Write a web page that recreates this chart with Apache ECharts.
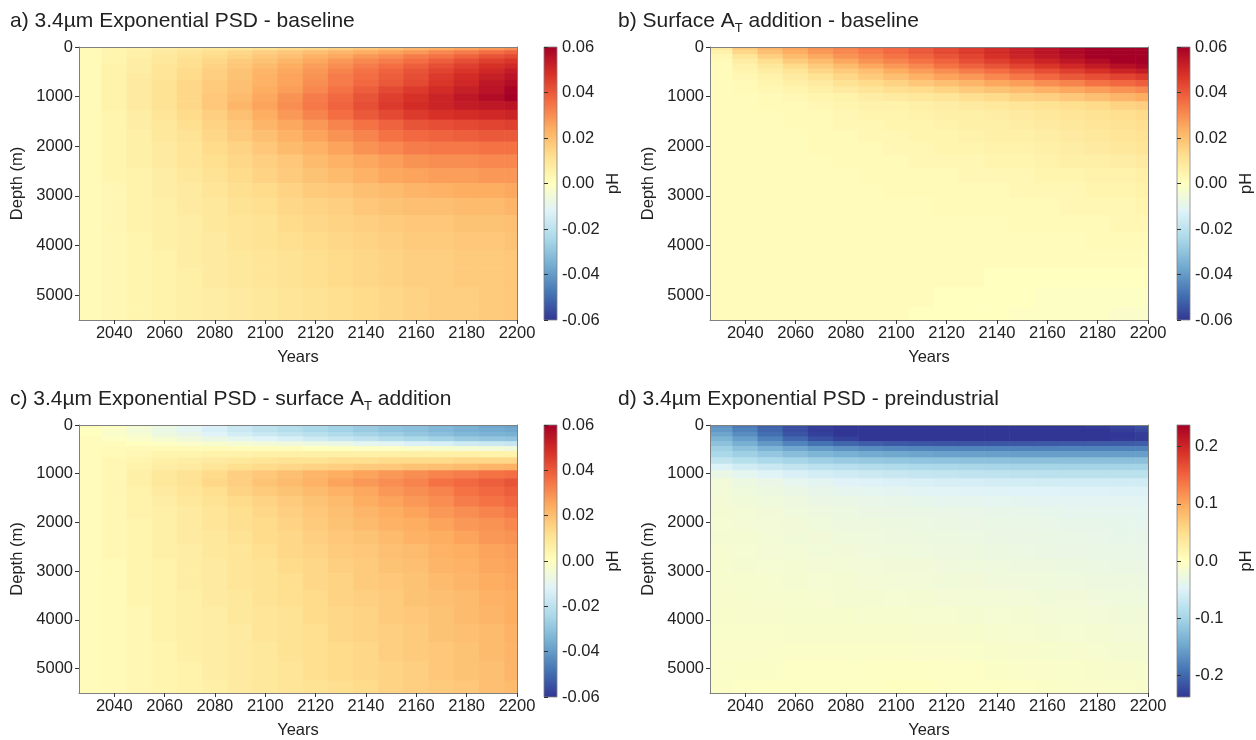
<!DOCTYPE html>
<html>
<head>
<meta charset="utf-8">
<title>pH change with depth</title>
<script src="https://cdn.jsdelivr.net/npm/echarts@6/dist/echarts.min.js"></script>
<style>
  html, body { margin: 0; padding: 0; background: #fff; }
  #chart { width: 1256px; height: 740px; }
</style>
</head>
<body>
<div id="chart"></div>
<script>
// column centres (years) and model layer edges (m)
const years = [2030, 2040, 2050, 2060, 2070, 2080, 2090, 2100, 2110, 2120, 2130, 2140, 2150, 2160, 2170, 2180, 2190, 2200];
const depthEdges = [0, 70, 150, 240, 340, 440, 540, 670, 800, 935, 1100, 1270, 1470, 1680, 1910, 2170, 2450, 2750, 3050, 3390, 3730, 4090, 4460, 4850, 5250, 5500];

const yearTicks = [2040, 2060, 2080, 2100, 2120, 2140, 2160, 2180, 2200];
const depthTicks = [0, 1000, 2000, 3000, 4000, 5000];
const phTicks = [-0.06, -0.04, -0.02, 0, 0.02, 0.04, 0.06];
const phTicksWide = [-0.2, -0.1, 0, 0.1, 0.2];

// pH differences, units of 0.001, one row per layer (top to bottom)
const phA = [
  [2,4,5,7,8,9,10,11,13,14,16,18,20,22,24,26,28,30],
  [2,4,6,8,10,12,14,16,18,20,22,24,26,28,31,33,36,38],
  [2,4,6,9,11,13,15,18,20,23,25,28,30,33,35,38,41,43],
  [2,4,7,9,12,14,17,19,22,25,28,31,33,36,39,42,45,47],
  [2,5,7,10,12,15,18,21,24,27,30,33,36,39,42,45,48,50],
  [2,5,7,10,13,16,19,22,25,28,32,35,38,41,44,47,50,53],
  [2,5,8,10,13,16,19,23,26,29,33,36,39,42,46,49,52,55],
  [2,5,8,11,14,17,20,23,26,30,33,37,40,43,47,50,54,57],
  [2,5,8,11,14,17,20,24,27,31,35,39,43,46,49,52,55,59],
  [2,5,8,11,14,18,21,25,29,33,37,41,45,48,51,54,57,60],
  [2,5,8,11,14,18,22,26,30,34,38,42,46,49,51,53,54,55],
  [2,4,7,10,13,16,20,24,28,32,36,40,43,46,48,49,50,51],
  [2,4,7,9,12,15,18,22,25,28,32,35,38,41,42,43,44,45],
  [2,4,6,9,11,14,17,20,23,26,29,32,35,37,38,39,40,40],
  [2,4,6,8,10,13,15,18,21,23,26,29,31,33,34,34,35,35],
  [2,4,6,8,10,12,14,16,18,21,23,25,27,29,30,30,31,31],
  [2,4,5,7,9,11,13,15,17,19,21,23,25,26,27,27,28,28],
  [2,3,5,7,8,10,12,13,15,17,18,20,21,22,23,24,24,25],
  [2,3,5,6,8,9,11,12,14,15,16,18,19,20,20,21,21,22],
  [2,3,5,6,7,9,10,11,13,14,15,16,17,18,18,19,19,20],
  [2,3,4,6,7,8,10,11,12,13,14,15,16,17,17,18,18,19],
  [2,3,4,5,7,8,9,10,11,12,13,14,15,16,16,17,17,18],
  [2,3,4,5,6,8,9,10,11,12,13,14,15,16,16,17,17,18],
  [2,3,4,5,6,7,8,9,10,11,12,13,14,15,16,16,17,18],
  [2,3,4,5,6,7,8,9,10,11,12,13,14,15,16,16,17,18]
];

const phB = [
  [8,17,22,26,29,32,35,37,40,43,46,49,52,55,58,61,63,65],
  [5,14,20,24,28,31,34,37,40,43,46,49,52,55,58,61,63,65],
  [3,10,16,21,25,29,32,35,38,41,44,48,51,54,57,60,62,64],
  [2,7,12,17,21,25,29,32,35,38,42,45,48,51,54,57,60,62],
  [1,5,9,13,17,21,25,28,31,35,38,41,44,47,50,53,56,58],
  [1,4,7,10,14,17,20,24,27,30,33,36,39,42,45,48,51,53],
  [1,3,5,8,11,14,17,20,23,26,28,31,34,37,40,42,44,46],
  [1,2,4,6,8,11,13,15,18,20,22,25,27,30,32,35,37,39],
  [1,2,3,4,6,8,10,12,13,15,17,19,21,23,25,27,29,31],
  [1,1,2,3,4,5,7,8,9,10,12,13,15,16,18,20,22,24],
  [1,1,2,2,3,4,5,5,6,7,8,9,10,11,12,13,15,16],
  [1,1,1,2,2,3,4,4,5,6,6,7,8,9,10,11,12,13],
  [1,1,1,2,2,3,3,4,4,5,6,6,7,8,9,10,11,12],
  [1,1,1,1,2,2,3,3,4,4,5,6,6,7,8,9,10,11],
  [1,1,1,1,2,2,2,3,3,4,4,5,5,6,7,8,9,10],
  [1,1,1,1,1,2,2,2,3,3,3,4,4,5,6,6,7,8],
  [1,1,1,1,1,1,2,2,2,2,3,3,3,4,4,5,5,6],
  [1,1,1,1,1,1,1,2,2,2,2,2,3,3,3,4,4,5],
  [1,1,1,1,1,1,1,1,1,2,2,2,2,2,3,3,3,4],
  [1,1,1,1,1,1,1,1,1,1,1,1,2,2,2,2,3,3],
  [1,1,1,1,1,1,1,1,1,1,1,1,1,1,1,2,2,2],
  [1,1,1,1,1,1,1,1,1,1,1,1,1,1,1,1,1,1],
  [1,1,1,1,1,1,1,1,1,1,1,0,0,0,0,0,0,0],
  [1,1,1,1,1,1,1,1,1,0,0,0,0,-1,-1,-1,-1,-1],
  [1,1,1,1,1,1,1,1,0,0,0,0,-1,-1,-1,-1,-2,-2]
];

const phC = [
  [1,-1,-4,-7,-10,-13,-17,-20,-22,-24,-26,-28,-30,-31,-33,-35,-37,-38],
  [0,-2,-5,-8,-11,-14,-17,-20,-22,-24,-26,-28,-30,-31,-33,-35,-36,-37],
  [0,-2,-4,-7,-9,-12,-15,-17,-19,-21,-23,-25,-27,-29,-31,-33,-34,-35],
  [1,-1,-2,-4,-6,-8,-10,-12,-14,-16,-18,-20,-22,-24,-26,-28,-29,-30],
  [1,1,0,-1,-2,-3,-4,-5,-6,-7,-8,-10,-11,-13,-14,-16,-17,-18],
  [1,2,2,2,2,2,1,1,1,0,0,-1,-1,-2,-3,-4,-5,-6],
  [1,2,3,4,4,5,5,6,6,6,6,6,6,6,6,6,5,5],
  [1,3,4,6,7,8,9,10,11,11,12,12,13,13,13,14,14,14],
  [1,3,5,7,8,10,12,13,14,15,16,17,18,19,20,21,22,23],
  [1,3,6,9,11,13,16,18,20,22,24,26,28,30,32,33,35,36],
  [1,3,6,9,11,14,16,19,21,23,26,28,30,32,35,37,39,41],
  [1,3,5,8,10,12,15,17,19,21,23,25,28,30,32,35,37,39],
  [1,3,5,7,9,11,13,15,17,19,21,24,26,28,30,33,35,37],
  [1,3,5,6,8,10,12,14,16,18,20,22,24,26,28,30,32,34],
  [1,3,4,6,8,10,12,13,15,17,19,21,23,24,26,28,29,31],
  [1,3,4,6,8,9,11,13,14,16,18,19,21,23,24,26,28,29],
  [1,3,4,6,7,9,10,12,14,15,17,18,20,21,23,24,26,27],
  [1,2,4,5,7,8,10,11,13,14,16,17,19,20,22,23,25,26],
  [1,2,4,5,7,8,10,11,12,14,15,17,18,19,21,22,24,25],
  [1,2,4,5,6,8,9,11,12,13,15,16,17,19,20,21,23,24],
  [1,2,3,5,6,7,9,10,11,13,14,15,17,18,19,21,22,24],
  [1,2,3,5,6,7,8,10,11,12,14,15,16,17,19,20,21,23],
  [1,2,3,4,6,7,8,9,11,12,13,14,16,17,18,19,21,22],
  [1,2,3,4,5,7,8,9,10,12,13,14,15,16,18,19,20,22],
  [1,2,3,4,5,6,8,9,10,11,12,13,15,16,17,18,20,21]
];

const phD = [
  [-165,-185,-205,-220,-232,-240,-245,-250,-250,-250,-250,-248,-246,-243,-240,-235,-228,-220],
  [-160,-180,-202,-220,-233,-242,-248,-252,-253,-253,-252,-250,-248,-245,-242,-238,-232,-225],
  [-150,-170,-195,-215,-230,-240,-247,-252,-254,-254,-253,-251,-249,-247,-244,-241,-237,-232],
  [-135,-155,-180,-200,-218,-230,-238,-243,-246,-247,-247,-246,-245,-243,-241,-239,-236,-233],
  [-120,-140,-160,-178,-192,-202,-208,-212,-214,-215,-215,-214,-213,-212,-211,-210,-209,-208],
  [-105,-120,-135,-148,-158,-166,-171,-175,-177,-178,-179,-179,-179,-179,-179,-179,-179,-179],
  [-95,-105,-115,-125,-133,-139,-144,-147,-150,-152,-153,-154,-155,-155,-155,-155,-155,-155],
  [-75,-85,-93,-100,-106,-110,-113,-116,-118,-119,-120,-121,-122,-122,-122,-122,-122,-122],
  [-50,-60,-68,-75,-80,-84,-88,-91,-93,-95,-97,-98,-99,-100,-101,-101,-101,-101],
  [-32,-40,-47,-53,-58,-62,-66,-69,-72,-74,-76,-78,-79,-80,-81,-81,-81,-81],
  [-22,-28,-33,-38,-42,-46,-49,-52,-54,-56,-57,-58,-59,-60,-61,-61,-61,-61],
  [-20,-24,-28,-32,-35,-38,-40,-42,-44,-45,-46,-47,-48,-48,-49,-49,-50,-50],
  [-18,-21,-24,-27,-30,-32,-34,-36,-37,-38,-39,-40,-41,-42,-42,-43,-43,-44],
  [-17,-19,-22,-24,-26,-28,-30,-31,-32,-33,-34,-35,-36,-37,-38,-38,-39,-40],
  [-16,-18,-20,-22,-24,-26,-27,-28,-29,-30,-31,-32,-33,-34,-35,-36,-37,-38],
  [-15,-17,-19,-21,-22,-24,-25,-26,-27,-28,-29,-30,-31,-32,-33,-34,-35,-36],
  [-14,-16,-18,-19,-21,-22,-23,-24,-25,-26,-27,-28,-29,-30,-31,-32,-33,-34],
  [-13,-15,-16,-17,-18,-19,-20,-21,-22,-23,-24,-25,-26,-27,-28,-29,-30,-31],
  [-12,-13,-14,-15,-16,-17,-18,-19,-20,-21,-22,-23,-23,-24,-25,-26,-27,-28],
  [-11,-12,-13,-13,-14,-15,-15,-16,-17,-18,-19,-19,-20,-21,-22,-23,-24,-25],
  [-10,-11,-11,-12,-12,-12,-13,-13,-14,-14,-15,-16,-17,-18,-19,-20,-21,-22],
  [-9,-9,-9,-10,-10,-10,-10,-10,-11,-11,-12,-13,-14,-15,-16,-17,-18,-19],
  [-8,-8,-7,-7,-7,-7,-7,-7,-8,-8,-9,-10,-11,-12,-13,-14,-15,-15],
  [-7,-6,-6,-5,-5,-5,-4,-4,-4,-5,-5,-6,-7,-8,-9,-10,-11,-12],
  [-6,-5,-4,-4,-3,-3,-3,-2,-2,-3,-3,-4,-5,-6,-7,-8,-9,-10]
];

// RdYlBu reversed
const cmap = ['#313695', '#4575b4', '#74add1', '#abd9e9', '#e0f3f8', '#ffffbf',
              '#fee090', '#fdae61', '#f46d43', '#d73027', '#a50026'];
const cmapRgb = cmap.map(h => [1, 3, 5].map(i => parseInt(h.slice(i, i + 2), 16)));

function colorAt(t) {
  t = Math.max(0, Math.min(1, t));
  const s = t * (cmapRgb.length - 1);
  const i = Math.min(Math.floor(s), cmapRgb.length - 2);
  const f = s - i;
  const a = cmapRgb[i], b = cmapRgb[i + 1];
  return 'rgb(' + a.map((v, k) => Math.round(v + (b[k] - v) * f)).join(',') + ')';
}

const FONT = 'Liberation Sans, Arial, sans-serif';
const TXT = '#222';
const SPINE = '#808080';

function cells(rows) {
  const out = [];
  rows.forEach((row, i) => {
    row.forEach((v, j) => {
      out.push([years[j] - 5, years[j] + 5, depthEdges[i], depthEdges[i + 1], v / 1000]);
    });
  });
  return out;
}

const panels = [
  { title: 'a) 3.4µm Exponential PSD - baseline', data: phA, lim: 0.06, ticks: phTicks, dec: 2,
    left: 79, top: 47, height: 273, cbLeft: 544, tLeft: 10, tTop: 7 },
  { title: 'b) Surface A{s|T} addition - baseline', data: phB, lim: 0.06, ticks: phTicks, dec: 2,
    left: 710, top: 47, height: 273, cbLeft: 1177, tLeft: 618, tTop: 7 },
  { title: 'c) 3.4µm Exponential PSD - surface A{s|T} addition', data: phC, lim: 0.06, ticks: phTicks, dec: 2,
    left: 79, top: 425, height: 272, cbLeft: 544, tLeft: 10, tTop: 385 },
  { title: 'd) 3.4µm Exponential PSD - preindustrial', data: phD, lim: 0.238, ticks: phTicksWide, dec: 1,
    left: 710, top: 425, height: 272, cbLeft: 1177, tLeft: 618, tTop: 385 }
];

const lineStyle = { color: SPINE, width: 1 };
const labelStyle = { fontSize: 16.5, color: TXT, fontFamily: FONT };
const tickStyle = { color: '#333', width: 1 };

const grid = [], xAxis = [], yAxis = [], series = [], title = [];

panels.forEach((p, k) => {
  title.push({
    left: p.tLeft, top: p.tTop, padding: 0,
    text: p.title,
    textStyle: {
      fontSize: 21, fontWeight: 'normal', color: TXT, fontFamily: FONT, lineHeight: 28,
      rich: { s: { fontSize: 13, color: TXT, fontFamily: FONT, verticalAlign: 'bottom', lineHeight: 28 } }
    }
  });

  grid.push({ left: p.left, top: p.top, width: 438, height: p.height });
  grid.push({ left: p.cbLeft, top: p.top, width: 13, height: p.height });

  xAxis.push({
    gridIndex: 2 * k, type: 'value', min: 2026, max: 2200, position: 'bottom', z: 10,
    axisLine: { show: true, onZero: false, lineStyle },
    axisTick: { show: true, length: 4, lineStyle: tickStyle, customValues: yearTicks },
    axisLabel: Object.assign({ customValues: yearTicks, formatter: v => String(v), margin: 5 }, labelStyle),
    splitLine: { show: false },
    name: 'Years', nameLocation: 'middle', nameGap: 29, nameTextStyle: labelStyle
  });
  xAxis.push({
    gridIndex: 2 * k, type: 'value', min: 2026, max: 2200, position: 'top', z: 10,
    axisLine: { show: true, onZero: false, lineStyle },
    axisTick: { show: false }, axisLabel: { show: false }, splitLine: { show: false }
  });
  xAxis.push({ gridIndex: 2 * k + 1, type: 'value', min: 0, max: 1, show: false });

  yAxis.push({
    gridIndex: 2 * k, type: 'value', min: 0, max: 5500, inverse: true, position: 'left', z: 10,
    axisLine: { show: true, onZero: false, lineStyle },
    axisTick: { show: true, length: 4, lineStyle: tickStyle, customValues: depthTicks },
    axisLabel: Object.assign({ customValues: depthTicks, formatter: v => String(v), margin: 6 }, labelStyle),
    splitLine: { show: false },
    name: 'Depth (m)', nameLocation: 'middle', nameGap: 53, nameRotate: 90, nameTextStyle: labelStyle
  });
  yAxis.push({
    gridIndex: 2 * k, type: 'value', min: 0, max: 5500, inverse: true, position: 'right', z: 10,
    axisLine: { show: true, onZero: false, lineStyle },
    axisTick: { show: false }, axisLabel: { show: false }, splitLine: { show: false }
  });
  yAxis.push({
    gridIndex: 2 * k + 1, type: 'value', min: -p.lim, max: p.lim, position: 'right', z: 10,
    axisLine: { show: false },
    axisTick: { show: true, length: 4, lineStyle: tickStyle, customValues: p.ticks },
    axisLabel: Object.assign({ customValues: p.ticks, formatter: v => v.toFixed(p.dec), margin: 5 }, labelStyle),
    splitLine: { show: false },
    name: 'pH', nameLocation: 'middle', nameGap: 48, nameRotate: 90, nameTextStyle: labelStyle
  });

  const lim = p.lim;
  series.push({
    type: 'custom', xAxisIndex: 3 * k, yAxisIndex: 3 * k, clip: true, silent: true,
    encode: { x: [0, 1], y: [2, 3] },
    data: cells(p.data),
    renderItem: (params, api) => {
      const a = api.coord([api.value(0), api.value(2)]);
      const b = api.coord([api.value(1), api.value(3)]);
      return {
        type: 'rect',
        shape: {
          x: Math.min(a[0], b[0]) - 0.3, y: Math.min(a[1], b[1]) - 0.3,
          width: Math.abs(b[0] - a[0]) + 0.6, height: Math.abs(b[1] - a[1]) + 0.6
        },
        style: { fill: colorAt((api.value(4) + lim) / (2 * lim)) }
      };
    }
  });

  // colour bar
  series.push({
    type: 'custom', xAxisIndex: 3 * k + 2, yAxisIndex: 3 * k + 2, silent: true,
    encode: { x: [0, 1], y: [2, 3] },
    data: [[0, 1, -lim, lim]],
    renderItem: (params, api) => {
      const a = api.coord([api.value(0), api.value(3)]);
      const b = api.coord([api.value(1), api.value(2)]);
      return {
        type: 'rect',
        shape: { x: a[0], y: a[1], width: b[0] - a[0], height: b[1] - a[1] },
        style: {
          fill: {
            type: 'linear', x: 0, y: 1, x2: 0, y2: 0,
            colorStops: cmap.map((c, i) => ({ offset: i / (cmap.length - 1), color: c }))
          },
          stroke: SPINE, lineWidth: 0.8
        }
      };
    }
  });
});

const chart = echarts.init(document.getElementById('chart'));
chart.setOption({
  backgroundColor: '#fff',
  animation: false,
  title, grid, xAxis, yAxis, series
});
</script>
</body>
</html>
